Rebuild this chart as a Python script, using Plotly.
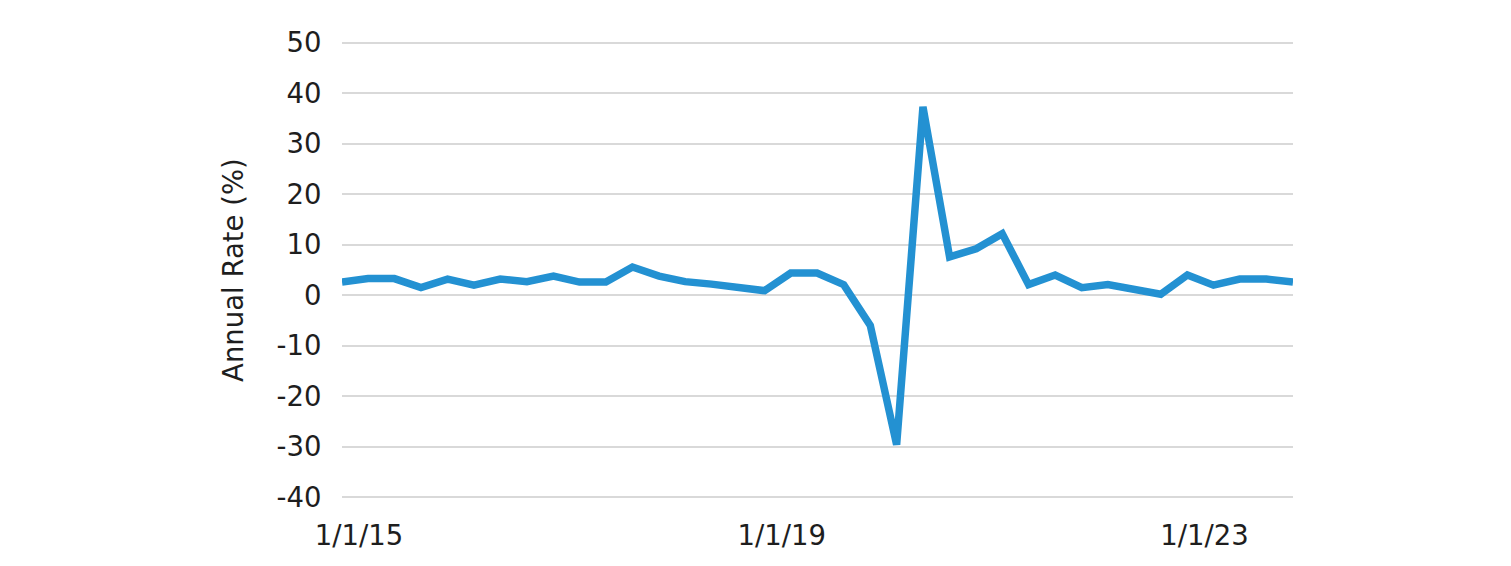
import pandas as pd
import plotly.graph_objects as go

dates = pd.date_range("2015-01-01", "2024-01-01", freq="QS").strftime("%Y-%m-%d").tolist()
annual_rate = [2.6, 3.3, 3.3, 1.5, 3.2, 2.0, 3.2, 2.7, 3.8, 2.6,
               2.6, 5.6, 3.8, 2.7, 2.2, 1.5, 0.9, 4.4, 4.4, 2.1,
               -6.0, -29.6, 37.3, 7.6, 9.2, 12.2, 2.1, 4.0, 1.5, 2.1,
               1.0, 0.2, 4.0, 2.0, 3.2, 3.2, 2.6]

tick_dates = ["2015-01-01", "2019-01-01", "2023-01-01"]
tick_text = ["1/1/15", "1/1/19", "1/1/23"]
y_ticks = [50, 40, 30, 20, 10, 0, -10, -20, -30, -40]
y_tick_text = ["50", "40", "30", "20", "10", "0", "-10", "-20", "-30", "-40"]

fig = go.Figure()
fig.add_trace(go.Scatter(
    x=dates, y=annual_rate, mode="lines",
    line=dict(color="#2391d2", width=7.5, shape="linear"),
    hoverinfo="x+y", showlegend=False,
))

font_family = "DejaVu Sans, sans-serif"
fs = 27.5
fig.update_layout(
    width=1503, height=558,
    margin=dict(l=334, r=218, t=33, b=67),
    paper_bgcolor="white", plot_bgcolor="white",
    font=dict(family=font_family, size=fs, color="#1e1e1e"),
    xaxis=dict(
        type="date", range=["2015-01-01", "2024-01-01"],
        tickvals=tick_dates, ticktext=tick_text,
        showgrid=False, zeroline=False, showline=False,
        ticks="outside", ticklen=12, tickcolor="rgba(0,0,0,0)",
        ticklabelshift=17,
        tickfont=dict(size=fs),
    ),
    yaxis=dict(
        range=[-40.35, 50.35], tickvals=y_ticks, ticktext=y_tick_text,
        showgrid=True, gridcolor="#d9d9d9", gridwidth=2,
        zeroline=False, showline=False,
        ticks="outside", ticklen=14, tickcolor="rgba(0,0,0,0)",
        title=dict(text="Annual Rate (%)", font=dict(size=fs), standoff=24),
        tickfont=dict(size=fs),
    ),
)

fig.write_html("out.html")
